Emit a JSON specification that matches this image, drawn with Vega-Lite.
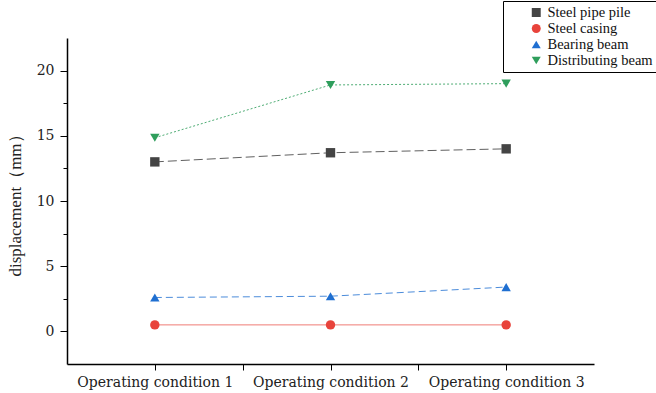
{
  "$schema": "https://vega.github.io/schema/vega-lite/v6.json",
  "width": 527,
  "height": 326,
  "autosize": "none",
  "padding": {"left": 67, "top": 38, "right": 62, "bottom": 29},
  "background": "white",
  "config": {
    "view": {"stroke": null},
    "font": "DejaVu Serif"
  },
  "data": {
    "values": [
      {"series": "Steel pipe pile", "condition": 1, "value": 13.0},
      {"series": "Steel pipe pile", "condition": 2, "value": 13.7},
      {"series": "Steel pipe pile", "condition": 3, "value": 14.0},
      {"series": "Steel casing", "condition": 1, "value": 0.5},
      {"series": "Steel casing", "condition": 2, "value": 0.5},
      {"series": "Steel casing", "condition": 3, "value": 0.5},
      {"series": "Bearing beam", "condition": 1, "value": 2.6},
      {"series": "Bearing beam", "condition": 2, "value": 2.7},
      {"series": "Bearing beam", "condition": 3, "value": 3.4},
      {"series": "Distributing beam", "condition": 1, "value": 14.85},
      {"series": "Distributing beam", "condition": 2, "value": 18.9},
      {"series": "Distributing beam", "condition": 3, "value": 19.0}
    ]
  },
  "encoding": {
    "x": {
      "field": "condition",
      "type": "quantitative",
      "scale": {"domain": [0.5, 3.5], "nice": false, "zero": false},
      "axis": {
        "title": null,
        "values": [1, 1.5, 2, 2.5, 3],
        "labelExpr": "datum.value % 1 === 0 ? 'Operating condition ' + datum.value : ''",
        "labelFont": "DejaVu Serif",
        "labelFontSize": 14,
        "labelColor": "#222222",
        "labelPadding": 5,
        "tickSize": 6,
        "tickColor": "black",
        "domainColor": "black",
        "domainWidth": 1.5,
        "grid": false,
        "labelFlush": false,
        "labelOverlap": false
      }
    },
    "y": {
      "field": "value",
      "type": "quantitative",
      "scale": {"domain": [-2.5, 22.5], "nice": false, "zero": false},
      "axis": {
        "title": "displacement（mm）",
        "titleFont": "Liberation Serif",
        "titleFontSize": 17,
        "titleFontWeight": "normal",
        "titleColor": "#222222",
        "titlePadding": 12,
        "values": [0, 2.5, 5, 7.5, 10, 12.5, 15, 17.5, 20],
        "labelExpr": "datum.value % 5 === 0 ? datum.value : ''",
        "labelFont": "DejaVu Serif",
        "labelFontSize": 14,
        "labelColor": "#222222",
        "labelPadding": 6,
        "tickSize": {"condition": {"test": "datum.value % 5 === 0", "value": 7}, "value": 4},
        "tickColor": "black",
        "domainColor": "black",
        "domainWidth": 1.5,
        "grid": false
      }
    }
  },
  "layer": [
    {
      "transform": [{"filter": "datum.series === 'Steel pipe pile'"}],
      "mark": {"type": "line", "strokeWidth": 1, "color": "#444444", "opacity": 0.85, "strokeDash": [9, 4]}
    },
    {
      "transform": [{"filter": "datum.series === 'Steel casing'"}],
      "mark": {"type": "line", "strokeWidth": 1, "color": "#e8433b", "opacity": 0.7}
    },
    {
      "transform": [{"filter": "datum.series === 'Bearing beam'"}],
      "mark": {"type": "line", "strokeWidth": 1, "color": "#1f6fd1", "opacity": 0.8, "strokeDash": [7, 4]}
    },
    {
      "transform": [{"filter": "datum.series === 'Distributing beam'"}],
      "mark": {"type": "line", "strokeWidth": 1, "color": "#2f9e5c", "opacity": 0.85, "strokeDash": [2, 2]}
    },
    {
      "mark": {"type": "point", "filled": true, "opacity": 1, "size": 88},
      "encoding": {
        "color": {
          "field": "series",
          "type": "nominal",
          "scale": {
            "domain": ["Steel pipe pile", "Steel casing", "Bearing beam", "Distributing beam"],
            "range": ["#444444", "#e8433b", "#1f6fd1", "#2f9e5c"]
          },
          "legend": {
            "title": null,
            "orient": "none",
            "legendX": 436,
            "legendY": -37,
            "strokeColor": "black",
            "padding": 4,
            "labelFont": "Liberation Serif",
            "labelFontSize": 14.5,
            "labelColor": "#111111",
            "symbolSize": 80,
            "symbolOffset": 22,
            "clipHeight": 15,
            "rowPadding": 0,
            "labelOffset": 4
          }
        },
        "shape": {
          "field": "series",
          "type": "nominal",
          "scale": {
            "domain": ["Steel pipe pile", "Steel casing", "Bearing beam", "Distributing beam"],
            "range": ["square", "circle", "triangle-up", "triangle-down"]
          }
        }
      }
    }
  ]
}
